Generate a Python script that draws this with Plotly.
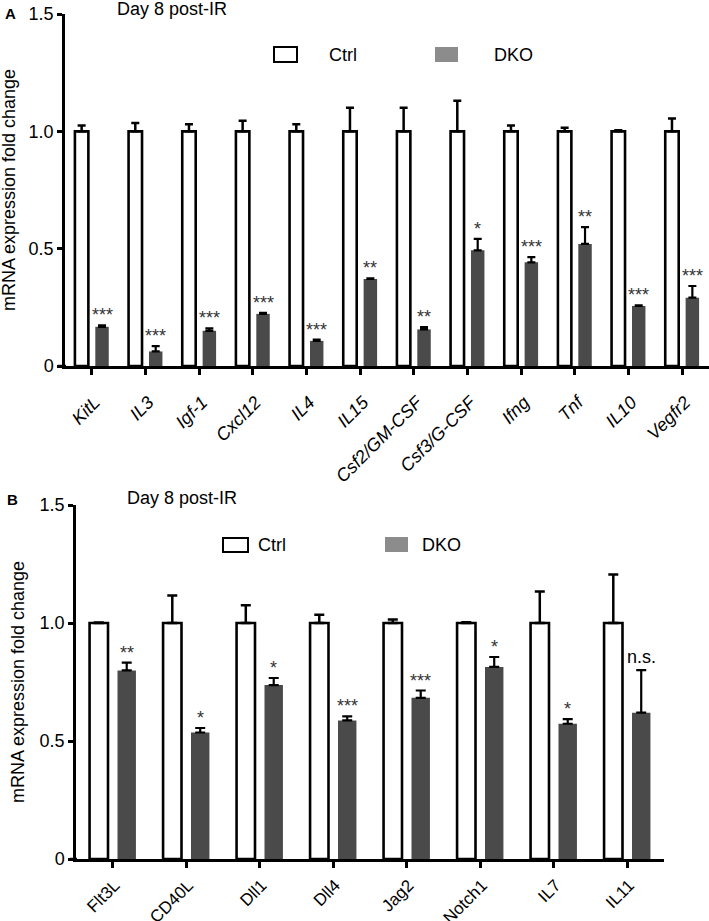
import plotly.graph_objects as go

# ---------------- data ----------------
categories_a = ['KitL', 'IL3', 'Igf-1', 'Cxcl12', 'IL4', 'IL15', 'Csf2/GM-CSF',
                'Csf3/G-CSF', 'Ifng', 'Tnf', 'IL10', 'Vegfr2']
ctrl_a = [1.0, 1.0, 1.0, 1.0, 1.0, 1.0, 1.0, 1.0, 1.0, 1.0, 1.0, 1.0]
ctrl_err_a = [0.025, 0.035, 0.03, 0.045, 0.03, 0.1, 0.1, 0.13, 0.025, 0.015, 0.005, 0.055]
dko_a = [0.167, 0.062, 0.15, 0.222, 0.107, 0.371, 0.156, 0.493, 0.442, 0.52, 0.256, 0.291]
dko_err_a = [0.006, 0.023, 0.01, 0.005, 0.005, 0.003, 0.01, 0.049, 0.022, 0.072, 0.002, 0.05]
sig_a = ['***', '***', '***', '***', '***', '**', '**', '*', '***', '**', '***', '***']

categories_b = ['Flt3L', 'CD40L', 'Dll1', 'Dll4', 'Jag2', 'Notch1', 'IL7', 'IL11']
ctrl_b = [1.0, 1.0, 1.0, 1.0, 1.0, 1.0, 1.0, 1.0]
ctrl_err_b = [0.002, 0.116, 0.075, 0.035, 0.015, 0.003, 0.134, 0.206]
dko_b = [0.799, 0.536, 0.737, 0.587, 0.683, 0.814, 0.573, 0.62]
dko_err_b = [0.033, 0.019, 0.03, 0.017, 0.031, 0.042, 0.02, 0.18]
sig_b = ['**', '*', '*', '***', '***', '*', '*', 'n.s.']

y_tickvals = [0, 0.5, 1.0, 1.5]
y_ticktext = ['0', '0.5', '1.0', '1.5']
panel_title = 'Day 8 post-IR'
y_title = 'mRNA expression fold change'

# ---------------- styling ----------------
W, H = 709, 921
FONT = 'Arial, Liberation Sans, sans-serif'
DKO_COLOR = '#4a4a4a'
DKO_LEGEND = '#8c8c8c'
bargap = 0.24
bargroupgap = 0.34
dko_shift = (1 - bargap) / 4


def px(x):
    return x / W


def py(y):
    return 1 - y / H


fig = go.Figure()


def add_panel(cats, ctrl, ctrl_err, dko, dko_err, xa, ya, capw):
    n = len(cats)
    fig.add_bar(x=cats, y=ctrl, xaxis=xa, yaxis=ya, showlegend=False,
                marker=dict(color='white', line=dict(color='black', width=2.6)),
                error_y=dict(type='data', symmetric=False, array=ctrl_err,
                             arrayminus=[0] * n, color='black', thickness=2.5, width=capw))
    fig.add_bar(x=cats, y=dko, xaxis=xa, yaxis=ya, showlegend=False,
                marker=dict(color=DKO_COLOR, line=dict(width=0)),
                error_y=dict(type='data', symmetric=False, array=dko_err,
                             arrayminus=[0] * n, color='black', thickness=2.2, width=capw))


add_panel(categories_a, ctrl_a, ctrl_err_a, dko_a, dko_err_a, 'x', 'y', 4)
add_panel(categories_b, ctrl_b, ctrl_err_b, dko_b, dko_err_b, 'x2', 'y2', 5)


def txt(x, y, text, size=18, **kw):
    d = dict(x=px(x), y=py(y), xref='paper', yref='paper', text=text, showarrow=False,
             xanchor='center', yanchor='middle',
             font=dict(family=FONT, size=size, color='black'))
    d.update(kw)
    return d


annotations = []
for i, (v, e, s) in enumerate(zip(dko_a, dko_err_a, sig_a)):
    annotations.append(dict(x=i + dko_shift, y=v + e, xref='x', yref='y', text=s,
                            showarrow=False, xanchor='center', yanchor='bottom', yshift=-2,
                            font=dict(family=FONT, size=18, color='#333')))
for i, (v, e, s) in enumerate(zip(dko_b, dko_err_b, sig_b)):
    annotations.append(dict(x=i + dko_shift, y=v + e, xref='x2', yref='y2', text=s,
                            showarrow=False, xanchor='center', yanchor='bottom',
                            yshift=-2 if s != 'n.s.' else 1,
                            font=dict(family=FONT, size=18,
                                      color='#333' if s != 'n.s.' else 'black')))

annotations += [
    txt(172, 9, panel_title),
    txt(182, 498, panel_title),
    txt(10, 13, '<b>A</b>', size=15),
    txt(12, 499, '<b>B</b>', size=15),
    txt(9, 190, y_title, textangle=-90),
    txt(18, 682, y_title, textangle=-90),
    txt(327, 54.5, 'Ctrl', xanchor='left'),
    txt(492, 54.5, 'DKO', xanchor='left'),
    txt(256, 545, 'Ctrl', xanchor='left'),
    txt(420, 545, 'DKO', xanchor='left'),
]

shapes = [
    dict(type='rect', xref='paper', yref='paper', x0=px(274), x1=px(297), y0=py(62), y1=py(47),
         fillcolor='white', line=dict(color='black', width=2)),
    dict(type='rect', xref='paper', yref='paper', x0=px(435), x1=px(458), y0=py(62), y1=py(47),
         fillcolor=DKO_LEGEND, line=dict(width=0)),
    dict(type='rect', xref='paper', yref='paper', x0=px(223), x1=px(248), y0=py(552), y1=py(538),
         fillcolor='white', line=dict(color='black', width=2)),
    dict(type='rect', xref='paper', yref='paper', x0=px(385), x1=px(408), y0=py(552), y1=py(537),
         fillcolor=DKO_LEGEND, line=dict(width=0)),
    # x-axis baseline stubs extending left of the y axis (Prism style)
    dict(type='line', xref='paper', yref='paper', x0=px(58), x1=px(66), y0=py(366), y1=py(366),
         line=dict(color='black', width=2.5)),
    dict(type='line', xref='paper', yref='paper', x0=px(70), x1=px(77), y0=py(859), y1=py(859),
         line=dict(color='black', width=2.5)),
]

xaxis_common = dict(type='category', showline=True, linecolor='black', linewidth=2.5,
                    ticks='outside', ticklen=6, tickwidth=2.5, tickcolor='black',
                    tickangle=-45, showgrid=False, zeroline=False, automargin=False)
yaxis_common = dict(range=[0, 1.5], showline=True, linecolor='black', linewidth=2.5,
                    ticks='outside', ticklen=5, tickwidth=2.5, tickcolor='black',
                    tickvals=y_tickvals, ticktext=y_ticktext, showgrid=False, zeroline=False,
                    automargin=False,
                    tickfont=dict(family=FONT, size=18, color='black'))

fig.update_layout(
    width=W, height=H, autosize=False,
    margin=dict(l=0, r=0, t=0, b=0, pad=0, autoexpand=False),
    paper_bgcolor='white', plot_bgcolor='white',
    barmode='group', bargap=bargap, bargroupgap=bargroupgap,
    xaxis=dict(domain=[px(65), px(709)], anchor='y',
               tickfont=dict(family=FONT, size=18, color='black', style='italic'),
               ticklabelstandoff=10, ticklabelshift=3,
               **xaxis_common),
    yaxis=dict(domain=[py(366), py(14)], anchor='x', **yaxis_common),
    xaxis2=dict(domain=[px(76), px(664)], anchor='y2',
                tickfont=dict(family=FONT, size=17, color='black'),
                ticklabelstandoff=1, ticklabelshift=2,
                **xaxis_common),
    yaxis2=dict(domain=[py(859), py(505)], anchor='x2', **yaxis_common),
    annotations=annotations,
    shapes=shapes,
)

fig.write_html('out.html', config={'displayModeBar': False},
               post_script="document.body.style.margin='0px';")
